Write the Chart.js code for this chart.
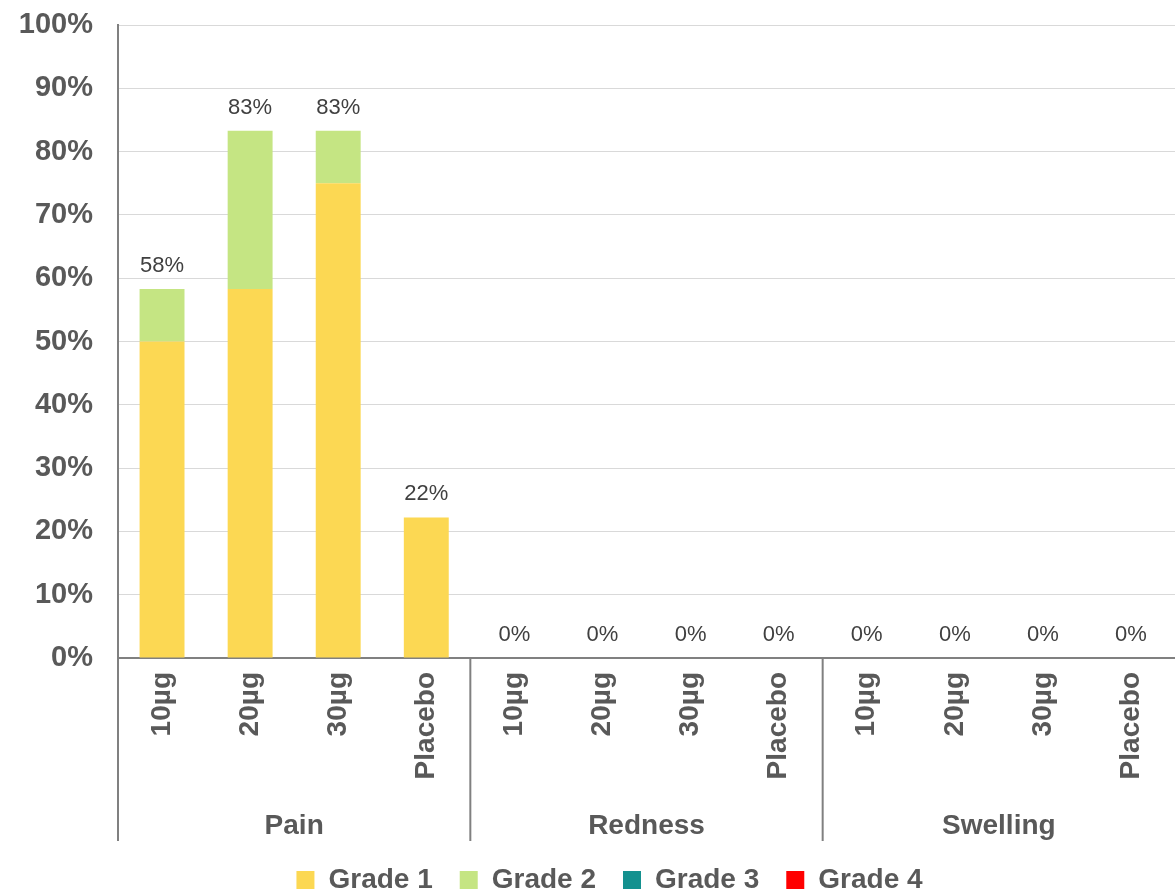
<!DOCTYPE html>
<html lang="en">
<head>
    <meta charset="UTF-8">
    <title>Local reactions by grade</title>
    <script src="https://cdn.jsdelivr.net/npm/chart.js"></script>
    <style>
        html, body { margin: 0; padding: 0; background: #fff; }
        #wrap { width: 1175px; height: 892px; }
    </style>
</head>
<body>
    <div id="wrap"><canvas id="myChart"></canvas></div>
    <script>
        // data
        const groups = ['Pain', 'Redness', 'Swelling'];
        const doses = ['10µg', '20µg', '30µg', 'Placebo'];
        const grade1 = [50, 58.3, 75, 22.2, 0, 0, 0, 0, 0, 0, 0, 0];
        const grade2 = [8.3, 25, 8.3, 0, 0, 0, 0, 0, 0, 0, 0, 0];
        const grade3 = [0, 0, 0, 0, 0, 0, 0, 0, 0, 0, 0, 0];
        const grade4 = [0, 0, 0, 0, 0, 0, 0, 0, 0, 0, 0, 0];
        const yTicks = [0, 10, 20, 30, 40, 50, 60, 70, 80, 90, 100];

        const labels = [];
        groups.forEach(() => doses.forEach(d => labels.push(d)));

        const fontFam = '"Liberation Sans", Arial, sans-serif';
        const textGray = '#595959';
        const axisGray = '#808080';

        // totals above each stack + group labels and separators under the axis
        const extras = {
            id: 'extras',
            afterLayout(chart) {
                // legend sits a bit right of centre in the original
                chart.legend.left += 22;
                chart.legend.right += 22;
            },
            afterDatasetsDraw(chart) {
                const ctx = chart.ctx;
                const y = chart.scales.y;
                const area = chart.chartArea;
                const meta = chart.getDatasetMeta(0);
                ctx.save();
                ctx.font = '22px ' + fontFam;
                ctx.fillStyle = '#404040';
                ctx.textAlign = 'center';
                ctx.textBaseline = 'alphabetic';
                labels.forEach((l, i) => {
                    const total = grade1[i] + grade2[i] + grade3[i] + grade4[i];
                    const px = meta.data[i].x;
                    ctx.fillText(Math.round(total) + '%', px, y.getPixelForValue(total) - 17);
                });

                // separators
                const bottom = area.bottom + 183;
                const per = (area.right - area.left) / labels.length;
                ctx.strokeStyle = axisGray;
                ctx.lineWidth = 2;
                ctx.beginPath();
                ctx.moveTo(area.left, area.bottom);
                ctx.lineTo(area.left, bottom);
                for (let g = 1; g < groups.length; g++) {
                    const sx = area.left + per * doses.length * g;
                    ctx.moveTo(sx, area.bottom);
                    ctx.lineTo(sx, bottom);
                }
                ctx.stroke();

                ctx.font = 'bold 28px ' + fontFam;
                ctx.fillStyle = textGray;
                ctx.textBaseline = 'middle';
                groups.forEach((g, k) => {
                    const cx = area.left + per * doses.length * (k + 0.5);
                    ctx.fillText(g, cx, area.bottom + 168);
                });
                ctx.restore();
            }
        };

        const ctx = document.getElementById('myChart').getContext('2d');
        const myChart = new Chart(ctx, {
            type: 'bar',
            data: {
                labels: labels,
                datasets: [
                    { label: 'Grade 1', data: grade1, backgroundColor: '#FCD853' },
                    { label: 'Grade 2', data: grade2, backgroundColor: '#C5E583' },
                    { label: 'Grade 3', data: grade3, backgroundColor: '#14918F' },
                    { label: 'Grade 4', data: grade4, backgroundColor: '#FF0000' }
                ]
            },
            options: {
                responsive: true,
                maintainAspectRatio: false,
                animation: false,
                layout: { padding: { top: 25, right: 0, bottom: -12, left: 0 } },
                datasets: {
                    bar: { barPercentage: 0.51, categoryPercentage: 1 }
                },
                plugins: {
                    legend: {
                        position: 'bottom',
                        labels: {
                            boxWidth: 18,
                            boxHeight: 18,
                            padding: 27,
                            color: textGray,
                            font: { family: fontFam, size: 28, weight: 'bold' }
                        }
                    },
                    tooltip: { enabled: false }
                },
                scales: {
                    x: {
                        stacked: true,
                        grid: { display: false, drawTicks: false },
                        border: { display: true, color: axisGray, width: 2 },
                        ticks: {
                            minRotation: 90,
                            maxRotation: 90,
                            padding: 14,
                            color: textGray,
                            font: { family: fontFam, size: 28, weight: 'bold' }
                        },
                        afterFit(scale) {
                            scale.height = 181;
                            scale.paddingRight = 0;
                            scale.paddingLeft = 0;
                        }
                    },
                    y: {
                        stacked: true,
                        min: 0,
                        max: 100,
                        afterBuildTicks(scale) { scale.ticks = yTicks.map(v => ({ value: v })); },
                        grid: { color: '#D9D9D9', lineWidth: 1, drawTicks: false },
                        border: { display: true, color: axisGray, width: 2 },
                        ticks: {
                            padding: 25,
                            color: textGray,
                            font: { family: fontFam, size: 29, weight: 'bold' },
                            callback: v => v + '%'
                        },
                        afterFit(scale) {
                            scale.width = 118;
                            scale.paddingTop = 14;
                        }
                    }
                }
            },
            plugins: [extras]
        });
    </script>
</body>
</html>
